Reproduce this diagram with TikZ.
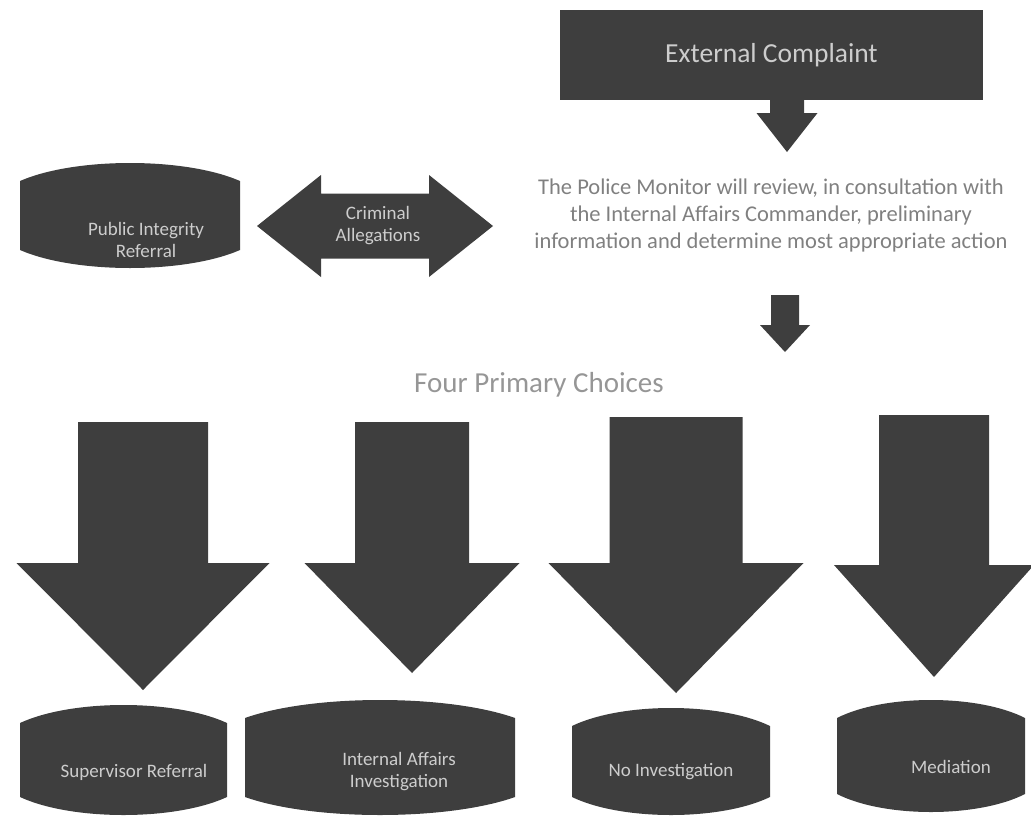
\documentclass[tikz,border=0pt]{standalone}
\usepackage{fontspec}
\setmainfont{Carlito}
\usetikzlibrary{calc}
\definecolor{ocfill} {RGB}{62,62,62}
\definecolor{ocgray} {RGB}{128,128,128}
\definecolor{oclight}{RGB}{150,150,150}
\definecolor{octext} {RGB}{205,205,205}
\tikzset{top box/.style={
    rectangle, fill=ocfill, inner sep=0pt,
    text=octext, font=\fontsize{27.5}{30}\selectfont,
    minimum width=423pt, minimum height=90pt
}}
\tikzset{barrel/.style 2 args={
    rectangle, inner sep=0pt,
    minimum width=#1pt, minimum height=#2pt,
    path picture={
      \fill[ocfill]
        ($(path picture bounding box.north west)+(0,18)$)
          .. controls ($(path picture bounding box.north west)!0.25!(path picture bounding box.north east)+(0,-6)$)
                  and ($(path picture bounding box.north west)!0.75!(path picture bounding box.north east)+(0,-6)$)
          .. ($(path picture bounding box.north east)+(0,18)$)
        -- ($(path picture bounding box.south east)+(0,-18)$)
          .. controls ($(path picture bounding box.south west)!0.75!(path picture bounding box.south east)+(0,6)$)
                  and ($(path picture bounding box.south west)!0.25!(path picture bounding box.south east)+(0,6)$)
          .. ($(path picture bounding box.south west)+(0,-18)$)
        -- cycle;
    }
}}
\tikzset{inner text/.style={
    text=octext, align=center, inner sep=0pt,
    font=\fontsize{19}{22}\selectfont
}}
\tikzset{outer text/.style={
    text=ocgray, align=center, inner sep=0pt,
    font=\fontsize{22.5}{27}\selectfont
}}
% top: tip: shaft width: head width: head length
\newcommand{\blockdown}[5]{
    \fill[ocfill] ($(#1)+(-#3/2,0)$) -- ($(#1)+(#3/2,0)$)
      -- ($(#2)+(#3/2,-#5)$) -- ($(#2)+(#4/2,-#5)$) -- (#2)
      -- ($(#2)+(-#4/2,-#5)$) -- ($(#2)+(-#3/2,-#5)$) -- cycle;
}
% left tip: right tip: shaft height: head height: head length
\newcommand{\blockboth}[5]{
    \fill[ocfill] (#1) -- ($(#1)+(#5,-#4/2)$) -- ($(#1)+(#5,-#3/2)$)
      -- ($(#2)+(-#5,-#3/2)$) -- ($(#2)+(-#5,-#4/2)$) -- (#2)
      -- ($(#2)+(-#5,#4/2)$) -- ($(#2)+(-#5,#3/2)$)
      -- ($(#1)+(#5,#3/2)$) -- ($(#1)+(#5,#4/2)$) -- cycle;
}

\begin{document}
\begin{tikzpicture}[x=1pt, y=-1pt]
    \useasboundingbox (0,0) rectangle (1031,822);

    \node (ext)     [top box]            at(771.5,55)  {External Complaint};
    \node (monitor) [outer text]         at(771,215)   {The Police Monitor will review, in consultation with\\
                                                        the Internal Affairs Commander, preliminary\\
                                                        information and determine most appropriate action};
    \node (choices) [outer text, text=oclight, font=\fontsize{29}{32}\selectfont]
                                         at(539,385)   {Four Primary Choices};

    \node (pir)     [barrel={220}{105}]  at(130,215.5) {};
    \node (sup)     [barrel={207}{110}]  at(123.5,760) {};
    \node (iai)     [barrel={270}{115}]  at(380,757.5) {};
    \node (noinv)   [barrel={198}{107}]  at(671,761.5) {};
    \node (med)     [barrel={188}{112}]  at(931,756)   {};

    \node (pirtext)   [inner text] at(146,240) {Public Integrity\\Referral};
    \node (suptext)   [inner text] at(134,772) {Supervisor Referral};
    \node (iaitext)   [inner text] at(399,772) {Internal Affairs\\Investigation};
    \node (noinvtext) [inner text] at(671,772) {No Investigation};
    \node (medtext)   [inner text] at(951,767) {Mediation};

    % arrow ends
    \coordinate (t0) at(787,100);  \coordinate (p0) at(787,152);
    \coordinate (t1) at(785,295);  \coordinate (p1) at(785,352);
    \coordinate (la) at(257,226);  \coordinate (ra) at(493,226);
    \coordinate (t2) at(143,422);  \coordinate (p2) at(143,690);
    \coordinate (t3) at(412,422);  \coordinate (p3) at(412,673);
    \coordinate (t4) at(676,417);  \coordinate (p4) at(676,693);
    \coordinate (t5) at(934,415);  \coordinate (p5) at(934,677);

    % arrows
    \blockdown{t0}{p0}{34}{61}{39}
    \blockdown{t1}{p1}{28}{50}{27}
    \blockboth{la}{ra}{65}{102}{64}
    \blockdown{t2}{p2}{130}{253}{127}
    \blockdown{t3}{p3}{114}{215}{110}
    \blockdown{t4}{p4}{133}{255}{130}
    \blockdown{t5}{p5}{110}{200}{112}

    \node (crimtext) [inner text] at(378,226) {Criminal\\Allegations};
\end{tikzpicture}
\end{document}
